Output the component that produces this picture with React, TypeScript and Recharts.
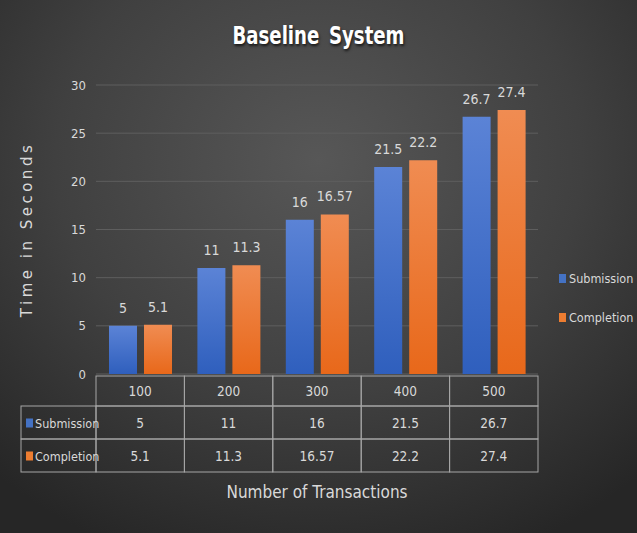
import { Bar, BarChart, CartesianGrid, LabelList, XAxis, YAxis } from "recharts"

const categories = ["100", "200", "300", "400", "500"]
const submission = [5, 11, 16, 21.5, 26.7]
const completion = [5.1, 11.3, 16.57, 22.2, 27.4]
const yTicks = [0, 5, 10, 15, 20, 25, 30]

const data = categories.map((name, i) => ({ name, submission: submission[i], completion: completion[i] }))

const FONT = "'Liberation Sans Narrow', 'DejaVu Sans Condensed', 'Open Sans', sans-serif"
const TEXT = "#d9d9d9"
const LINE = "#a6a6a6"
const BLUE = "#4472c4"
const ORANGE = "#ed7d31"

const rows = [
  { key: "submission", label: "Submission", color: BLUE, values: submission },
  { key: "completion", label: "Completion", color: ORANGE, values: completion },
]

function TableTick(props: any) {
  const { x, y, payload, index, width, visibleTicksCount } = props
  const half = payload?.offset ?? width / visibleTicksCount / 2
  const left = x - half
  const top = y + 2
  const h = [30, 33, 33]
  const headW = 75
  const cells = []
  cells.push(<rect key="r0" x={left} y={top} width={half * 2} height={h[0]} fill="none" stroke={LINE} />)
  cells.push(
    <text key="t0" x={x} y={top + h[0] / 2 + 5} textAnchor="middle" fill={TEXT} fontSize={13.5} fontFamily={FONT}>
      {payload.value}
    </text>
  )
  let ry = top + h[0]
  rows.forEach((r, ri) => {
    const rh = h[ri + 1]
    cells.push(<rect key={"r" + r.key} x={left} y={ry} width={half * 2} height={rh} fill="none" stroke={LINE} />)
    cells.push(
      <text key={"t" + r.key} x={x} y={ry + rh / 2 + 5} textAnchor="middle" fill={TEXT} fontSize={13.5} fontFamily={FONT}>
        {r.values[index]}
      </text>
    )
    if (index === 0) {
      cells.push(<rect key={"h" + r.key} x={left - headW} y={ry} width={headW} height={rh} fill="none" stroke={LINE} />)
      cells.push(<rect key={"s" + r.key} x={left - headW + 5} y={ry + rh / 2 - 4} width={7} height={9} fill={r.color} />)
      cells.push(
        <text key={"l" + r.key} x={left - headW + 14} y={ry + rh / 2 + 5} fill={TEXT} fontSize={12.5} fontFamily={FONT}>
          {r.label}
        </text>
      )
    }
    ry += rh
  })
  return <g>{cells}</g>
}

export default function App() {
  return (
    <div
      style={{
        position: "absolute",
        left: 0,
        top: 0,
        width: 637,
        height: 533,
        background: "radial-gradient(ellipse 75% 80% at 50% 30%, #575757 0%, #404040 55%, #262626 100%)",
        overflow: "hidden",
      }}
    >
      <div
        style={{
          position: "absolute",
          top: 22,
          width: 637,
          textAlign: "center",
          fontFamily: FONT,
          fontWeight: "bold",
          fontSize: 24,
          color: "#ffffff",
          wordSpacing: 4,
          transform: "scaleX(0.84)",
          textShadow: "1px 2px 3px rgba(0,0,0,0.7)",
        }}
      >
        Baseline System
      </div>
      <div style={{ position: "absolute", left: 559, top: 259, fontFamily: FONT, fontSize: 12.5, color: TEXT }}>
        {rows.map((r) => (
          <div key={r.key} style={{ display: "flex", alignItems: "center", height: 39 }}>
            <span style={{ display: "inline-block", width: 7, height: 9, background: r.color, marginRight: 3 }} />
            {r.label}
          </div>
        ))}
      </div>
      <BarChart
        width={637}
        height={533}
        data={data}
        margin={{ top: 85, right: 99, bottom: 61, left: 16 }}
        barCategoryGap={13}
        barGap={7}
      >
        <defs>
          <linearGradient id="gBlue" x1="0" y1="0" x2="0" y2="1">
            <stop offset="0%" stopColor="#5b83d6" />
            <stop offset="100%" stopColor="#2f5fbd" />
          </linearGradient>
          <linearGradient id="gOrange" x1="0" y1="0" x2="0" y2="1">
            <stop offset="0%" stopColor="#f08c52" />
            <stop offset="100%" stopColor="#e8681a" />
          </linearGradient>
        </defs>
        <CartesianGrid vertical={false} stroke="#5e5e5e" />
        <XAxis
          dataKey="name"
          height={98}
          axisLine={false}
          tickLine={false}
          tickSize={0}
          tickMargin={0}
          interval={0}
          tick={<TableTick />}
          label={(p: any) => {
            const vb = p.viewBox
            return (
              <text x={vb.x + vb.width / 2} y={vb.y + 124} textAnchor="middle" fill={TEXT} fontSize={17} fontFamily={FONT}>
                Number of Transactions
              </text>
            )
          }}
        />
        <YAxis
          width={80}
          domain={[0, 30]}
          ticks={yTicks}
          axisLine={false}
          tickLine={false}
          tickMargin={4}
          tick={{ fill: TEXT, fontSize: 13, fontFamily: FONT }}
          label={(p: any) => {
            const vb = p.viewBox
            const cx = 27
            const cy = vb.y + vb.height / 2
            return (
              <text
                x={cx}
                y={cy}
                transform={`rotate(-90 ${cx} ${cy})`}
                textAnchor="middle"
                dominantBaseline="middle"
                fill={TEXT}
                fontSize={15}
                letterSpacing={3.5}
                fontFamily="'DejaVu Sans', sans-serif"
              >
                Time in Seconds
              </text>
            )
          }}
        />
        <Bar dataKey="submission" name="Submission" fill="url(#gBlue)" isAnimationActive={false}>
          <LabelList dataKey="submission" position="top" offset={13} fill={TEXT} fontSize={14} fontFamily={FONT} />
        </Bar>
        <Bar dataKey="completion" name="Completion" fill="url(#gOrange)" isAnimationActive={false}>
          <LabelList dataKey="completion" position="top" offset={13} fill={TEXT} fontSize={14} fontFamily={FONT} />
        </Bar>
      </BarChart>
    </div>
  )
}
